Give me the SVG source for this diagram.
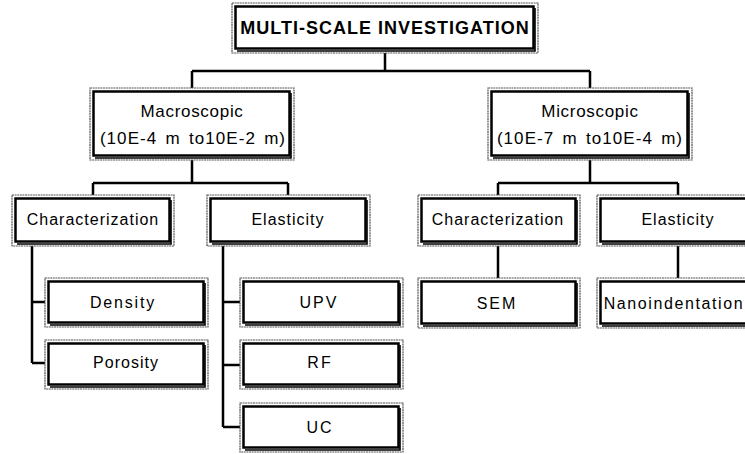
<svg xmlns="http://www.w3.org/2000/svg" width="745" height="454" viewBox="0 0 745 454">
<style>
.o{fill:#fff;stroke:#555;stroke-width:1.2;stroke-dasharray:2 0.6}
.i{fill:none;stroke:#000;stroke-width:2.5}
.s{fill:none;stroke:#000;stroke-width:1.6}
.t{font-family:"Liberation Sans",Arial,sans-serif;font-size:16px;letter-spacing:1px;text-anchor:middle;fill:#000}
.m{font-size:17px;letter-spacing:0.7px}
.p{font-size:17px;letter-spacing:1.05px;word-spacing:2.5px}
.tb{font-family:"Liberation Sans",Arial,sans-serif;font-size:18px;font-weight:bold;letter-spacing:1px;text-anchor:middle;fill:#000}
.c{fill:none;stroke:#000;stroke-width:2.5}
</style>
<rect width="745" height="454" fill="#fff"/>
<g id="connectors" class="c">
<path d="M385 53V71M192 71H590M192 71V88M590 71V88"/>
<path d="M192 160V183M93 183H288M93 183V195M288 183V195"/>
<path d="M590 160V183M498 183H678M498 183V195M678 183V195"/>
<path d="M32 246V363M32 302H45M32 363H45"/>
<path d="M223 246V427M223 302H240M223 365H240M223 427H240"/>
<path d="M498 246V278M678 246V278"/>
</g>
<g id="n-root"><rect class="o" x="232" y="3" width="306" height="50"/><rect class="i" x="235.5" y="6.5" width="298" height="42"/><path class="s" d="M535 8V51H237"/><text class="tb" x="385" y="34">MULTI-SCALE INVESTIGATION</text></g>
<g id="n-macro"><rect class="o" x="90" y="88" width="204" height="72"/><rect class="i" x="93.5" y="91.5" width="196" height="64"/><path class="s" d="M291 93V158H95"/><text class="t m" x="192" y="117">Macroscopic</text><text class="t p" x="193" y="144">(10E-4 m to10E-2 m)</text></g>
<g id="n-micro"><rect class="o" x="488" y="88" width="204" height="72"/><rect class="i" x="491.5" y="91.5" width="196" height="64"/><path class="s" d="M689 93V158H493"/><text class="t m" x="590" y="117">Microscopic</text><text class="t p" x="590" y="144">(10E-7 m to10E-4 m)</text></g>
<g id="n-lchar"><rect class="o" x="12" y="195" width="162" height="51"/><rect class="i" x="15.5" y="198.5" width="154" height="43"/><path class="s" d="M171 200V244H17"/><text class="t" x="93" y="225">Characterization</text></g>
<g id="n-lelast"><rect class="o" x="207" y="195" width="163" height="51"/><rect class="i" x="210.5" y="198.5" width="155" height="43"/><path class="s" d="M367 200V244H212"/><text class="t" x="288" y="225">Elasticity</text></g>
<g id="n-rchar"><rect class="o" x="418" y="195" width="162" height="51"/><rect class="i" x="421.5" y="198.5" width="154" height="43"/><path class="s" d="M577 200V244H423"/><text class="t" x="498" y="225">Characterization</text></g>
<g id="n-relast"><rect class="o" x="597" y="195" width="162" height="51"/><rect class="i" x="600.5" y="198.5" width="154" height="43"/><path class="s" d="M756 200V244H602"/><text class="t" x="678" y="225">Elasticity</text></g>
<g id="n-density"><rect class="o" x="45" y="278" width="163" height="49"/><rect class="i" x="48.5" y="281.5" width="155" height="41"/><path class="s" d="M205 283V325H50"/><text class="t" x="123" y="308" style="letter-spacing:1.8px">Density</text></g>
<g id="n-porosity"><rect class="o" x="45" y="340" width="163" height="49"/><rect class="i" x="48.5" y="343.5" width="155" height="41"/><path class="s" d="M205 345V387H50"/><text class="t" x="126" y="368">Porosity</text></g>
<g id="n-upv"><rect class="o" x="240" y="278" width="163" height="49"/><rect class="i" x="243.5" y="281.5" width="155" height="41"/><path class="s" d="M400 283V325H245"/><text class="t" x="319" y="308" style="letter-spacing:2px">UPV</text></g>
<g id="n-rf"><rect class="o" x="240" y="340" width="163" height="49"/><rect class="i" x="243.5" y="343.5" width="155" height="41"/><path class="s" d="M400 345V387H245"/><text class="t" x="320" y="368" style="letter-spacing:2px">RF</text></g>
<g id="n-uc"><rect class="o" x="240" y="403" width="163" height="49"/><rect class="i" x="243.5" y="406.5" width="155" height="41"/><path class="s" d="M400 408V450H245"/><text class="t" x="320" y="433" style="letter-spacing:2px">UC</text></g>
<g id="n-sem"><rect class="o" x="418" y="278" width="162" height="50"/><rect class="i" x="421.5" y="281.5" width="154" height="42"/><path class="s" d="M577 283V326H423"/><text class="t" x="497" y="309" style="letter-spacing:2px">SEM</text></g>
<g id="n-nano"><rect class="o" x="597" y="278" width="162" height="50"/><rect class="i" x="600.5" y="281.5" width="154" height="42"/><path class="s" d="M756 283V326H602"/><text class="t" x="674" y="309" style="letter-spacing:1.6px">Nanoindentation</text></g>
</svg>
